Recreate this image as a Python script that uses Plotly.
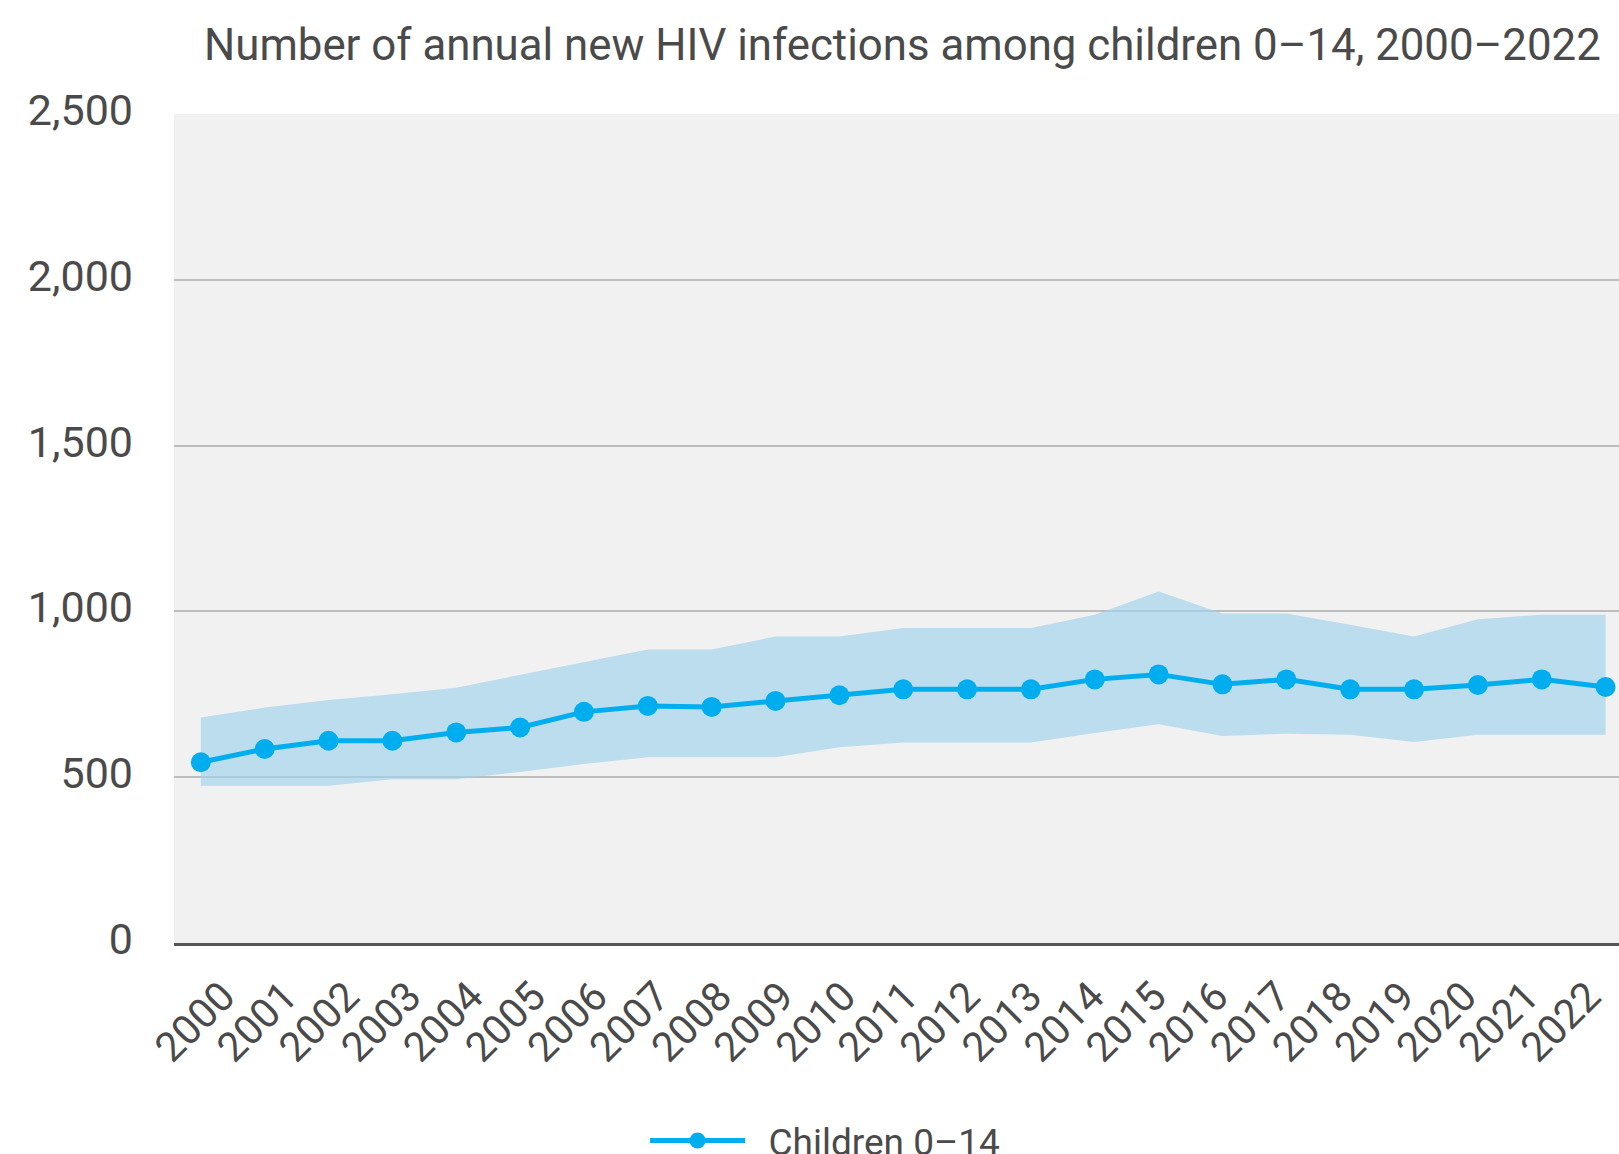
import plotly.graph_objects as go

years = list(range(2000, 2023))
tick_labels = [str(y) for y in years]
children_0_14 = [545, 585, 610, 610, 635, 650, 697, 715, 712, 730, 747, 765, 765, 765,
                 795, 810, 780, 795, 765, 765, 778, 795, 772]
upper_bound = [680, 710, 733, 750, 770, 808, 845, 885, 885, 924, 924, 950, 950, 950,
               990, 1060, 994, 994, 960, 924, 976, 990, 990]
lower_bound = [474, 474, 474, 494, 494, 516, 540, 560, 560, 560, 590, 605, 605, 605,
               633, 660, 624, 631, 628, 606, 628, 628, 628]
y_ticks = [0, 500, 1000, 1500, 2000, 2500]

FONT = "Roboto"
TXT = "#4a4a4a"
LINE_COLOR = "#00AEEF"
BAND_COLOR = "rgba(160,210,237,0.65)"

fig = go.Figure()
fig.add_trace(go.Scatter(x=years, y=lower_bound, mode="lines", line=dict(width=0),
                         showlegend=False, hoverinfo="skip"))
fig.add_trace(go.Scatter(x=years, y=upper_bound, mode="lines", line=dict(width=0),
                         fill="tonexty", fillcolor=BAND_COLOR,
                         showlegend=False, hoverinfo="skip"))
fig.add_trace(go.Scatter(x=years, y=children_0_14, mode="lines+markers",
                         name="\u00a0\u00a0Children 0–14",
                         line=dict(color=LINE_COLOR, width=5),
                         marker=dict(color=LINE_COLOR, size=20)))
# draws nothing; carries the year tick labels axis
fig.add_trace(go.Scatter(x=years, y=children_0_14, mode="none", xaxis="x2",
                         showlegend=False, hoverinfo="skip"))

fig.update_layout(
    width=1619, height=1154,
    margin=dict(l=174, r=0, t=114, b=211, autoexpand=False),
    paper_bgcolor="white",
    plot_bgcolor="#F1F1F1",
    font=dict(family=FONT, color=TXT),
    showlegend=True,
    legend=dict(orientation="h", x=0.326, xanchor="left", y=-0.2388, yanchor="middle",
                font=dict(size=37, color=TXT, family=FONT), itemwidth=95,
                bgcolor="rgba(0,0,0,0)"),
    annotations=[dict(text="Number of annual new HIV infections among children 0–14, 2000–2022",
                      xref="paper", yref="paper", x=(1603 - 174) / 1445, xanchor="right",
                      y=1 + (114 - 60) / 829, yanchor="bottom", yshift=-13,
                      showarrow=False, font=dict(size=43.8, color=TXT, family=FONT))],
    xaxis=dict(range=[1999.58, 2022.21], showticklabels=False, showgrid=False,
               zeroline=False, showline=True, linecolor="#555555", linewidth=3, ticks=""),
    xaxis2=dict(overlaying="x", anchor="y", side="bottom",
                range=[1999.213, 2022.49], tickmode="array", tickvals=years,
                ticktext=tick_labels, tickangle=-45, showgrid=False, zeroline=False,
                showline=False, ticks="", ticklabeloverflow="allow",
                tickfont=dict(size=41, color=TXT, family=FONT), ticklabelstandoff=20),
    yaxis=dict(range=[0, 2500], tickmode="array", tickvals=y_ticks,
               tickformat=",", showgrid=True, gridcolor="#BDBDBD", gridwidth=1.5,
               zeroline=False, showline=False,
               tickfont=dict(size=43, color=TXT, family=FONT), ticks="",
               ticklabelstandoff=40, ticklabelshift=-4),
)

fig.write_html("out.html")
